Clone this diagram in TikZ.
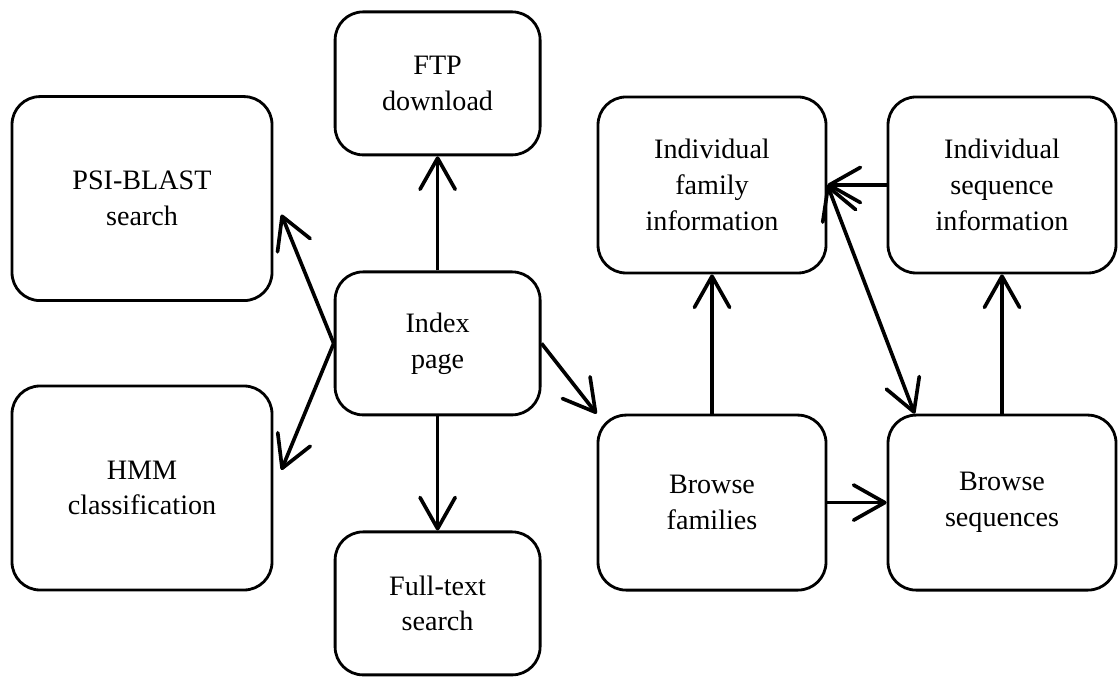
\documentclass[tikz,border=0pt]{standalone}
\usepackage{fontspec}
\setmainfont{Liberation Serif}
\usepackage{tikz}
\usetikzlibrary{arrows.meta,positioning,calc}
\tikzset{
    % Page box styles
    pagebox/.style={
        rectangle, draw=black, line width=2pt, fill=white,
        rounded corners=0.7cm, align=center,
        font=\fontsize{20}{25.5}\selectfont
    },
    widebox/.style={
        pagebox, minimum width=6.5cm, minimum height=5.1cm
    },
    smallbox/.style={
        pagebox, minimum width=5.125cm, minimum height=3.575cm
    },
    sidebox/.style={
        pagebox, minimum width=5.7cm, minimum height=4.4cm
    },
    % Link style
    >={Straight Barb[length=7.8mm, width=8.8mm, line join=round, line cap=round]},
    link/.style={line width=2.6pt, ->},
    twoway/.style={line width=2.6pt, <->}
}

\begin{document}
\begin{tikzpicture}
\useasboundingbox (0,0) rectangle (27.95,16.925);

% Search pages
\node[widebox] (psi) at (3.55,11.96) {PSI-BLAST\\search};
\node[widebox] (hmm) at (3.55,4.725) {HMM\\classification};

% Middle column
\node[smallbox] (ftp) at (10.94,14.84) {FTP\\download};
\node[smallbox] (index) at (10.94,8.34) {Index\\page};
\node[smallbox] (full) at (10.94,1.84) {Full-text\\search};

% Information pages
\node[sidebox] (ifam) at (17.8,12.3) {Individual\\family\\information};
\node[sidebox] (iseq) at (25.05,12.3) {Individual\\sequence\\information};

% Browse pages
\node[sidebox, minimum height=4.375cm] (bfam) at (17.8,4.36) {Browse\\families};
\node[sidebox, minimum height=4.375cm] (bseq) at (25.05,4.36) {Browse\\sequences};

% Links from the index
\draw[link] (index.north) -- (ftp.south);
\draw[link] (index.south) -- (full.north);
\draw[link] (index.west) -- ([xshift=2mm,yshift=-4mm]psi.east);
\draw[link] (index.west) -- ([xshift=2mm,yshift=4.5mm]hmm.east);
\draw[link] (index.east) -- (bfam.north west);

% Links between browse and information pages
\draw[link] (bfam.north) -- (ifam.south);
\draw[link] (bseq.north) -- (iseq.south);
\draw[link] (bfam.east) -- (bseq.west);
\draw[link] (iseq.west) -- (ifam.east);
\draw[twoway] (ifam.east) -- ([xshift=7mm]bseq.north west);

\end{tikzpicture}
\end{document}
